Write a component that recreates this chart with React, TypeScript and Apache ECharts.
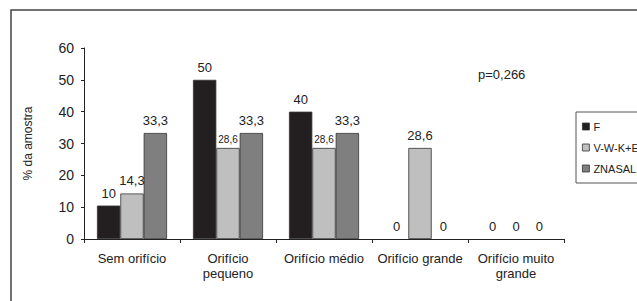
import React, { useEffect, useRef } from "react";
import * as echarts from "echarts";

const categories = ["Sem orifício", "Orifício\npequeno", "Orifício médio", "Orifício grande", "Orifício muito\ngrande"];
const seriesNames = ["F", "V-W-K+E", "ZNASAL"];
const valuesF = [10.5, 50, 40, 0, 0];
const labelsF = ["10", "50", "40", "0", "0"];
const valuesV = [14.3, 28.6, 28.6, 28.6, 0];
const labelsV = ["14,3", "28,6", "28,6", "28,6", "0"];
const valuesZ = [33.3, 33.3, 33.3, 0, 0];
const labelsZ = ["33,3", "33,3", "33,3", "0", "0"];
const smallLabelV = [false, true, true, false, false];
const yTicks = [0, 10, 20, 30, 40, 50, 60];

const colors = ["#231f20", "#bfbfbf", "#7f7f7f"];
const FONT = "Liberation Sans, Arial, sans-serif";

export default function App() {
  const ref = useRef<HTMLDivElement>(null);
  useEffect(() => {
    if (!ref.current) return;
    const chart = echarts.init(ref.current, null, { renderer: "svg" });
    const mk = (name: string, vals: number[], labels: string[], color: string, small?: boolean[]) => ({
      name,
      type: "bar",
      barGap: "0%",
      barCategoryGap: "27%",
      itemStyle: { color, borderColor: "#333", borderWidth: 0.8 },
      data: vals.map((v, i) => ({
        value: v,
        itemStyle: v === 0 ? { borderWidth: 0 } : undefined,
        label: {
          show: true,
          position: "top",
          distance: small && small[i] ? 3 : 6,
          formatter: labels[i],
          fontSize: small && small[i] ? 10 : 13,
          color: "#222",
          fontFamily: FONT,
        },
      })),
    });
    chart.setOption({
      animation: false,
      color: colors,
      textStyle: { fontFamily: FONT },
      grid: { left: 84, right: 73, top: 48, bottom: 62, containLabel: false },
      graphic: [
        {
          type: "rect",
          shape: { x: 11, y: 10, width: 700, height: 400 },
          style: { fill: "none", stroke: "#444", lineWidth: 1.5 },
          silent: true,
        },
        {
          type: "text",
          x: 478,
          y: 68,
          style: { text: "p=0,266", fontSize: 13, fill: "#222", fontFamily: FONT },
        },
      ],
      legend: {
        orient: "vertical",
        left: 576,
        top: 112,
        itemWidth: 7,
        itemHeight: 7,
        itemGap: 10,
        padding: [9, 40, 9, 6],
        borderColor: "#555",
        borderWidth: 1,
        icon: "rect",
        itemStyle: { borderColor: "#333", borderWidth: 0.8 },
        textStyle: { fontSize: 11, color: "#222", fontFamily: FONT, padding: [0, 0, 0, -1] },
        data: seriesNames,
      },
      xAxis: {
        type: "category",
        data: categories,
        axisLine: { lineStyle: { color: "#222", width: 1 } },
        axisTick: { show: true, length: 4, interval: 0, lineStyle: { color: "#222" } },
        axisLabel: { interval: 0, fontSize: 13, color: "#222", lineHeight: 15, margin: 12, fontFamily: FONT },
      },
      yAxis: {
        type: "value",
        min: 0,
        max: 60,
        interval: 10,
        name: "% da amostra",
        nameLocation: "middle",
        nameGap: 50,
        nameTextStyle: { fontSize: 12, color: "#222", fontFamily: FONT },
        axisLine: { show: true, lineStyle: { color: "#222", width: 1 } },
        axisTick: { show: true, length: 3, lineStyle: { color: "#222" } },
        splitLine: { show: false },
        axisLabel: {
          fontSize: 14,
          color: "#222",
          margin: 10,
          fontFamily: FONT,
          formatter: (v: number) => (yTicks.includes(v) ? String(v) : ""),
        },
      },
      series: [
        mk(seriesNames[0], valuesF, labelsF, colors[0]),
        mk(seriesNames[1], valuesV, labelsV, colors[1], smallLabelV),
        mk(seriesNames[2], valuesZ, labelsZ, colors[2]),
      ],
    });
    return () => chart.dispose();
  }, []);
  return (
    <div
      ref={ref}
      style={{ position: "fixed", left: 0, top: 0, width: 637, height: 301, background: "#fff" }}
    />
  );
}
